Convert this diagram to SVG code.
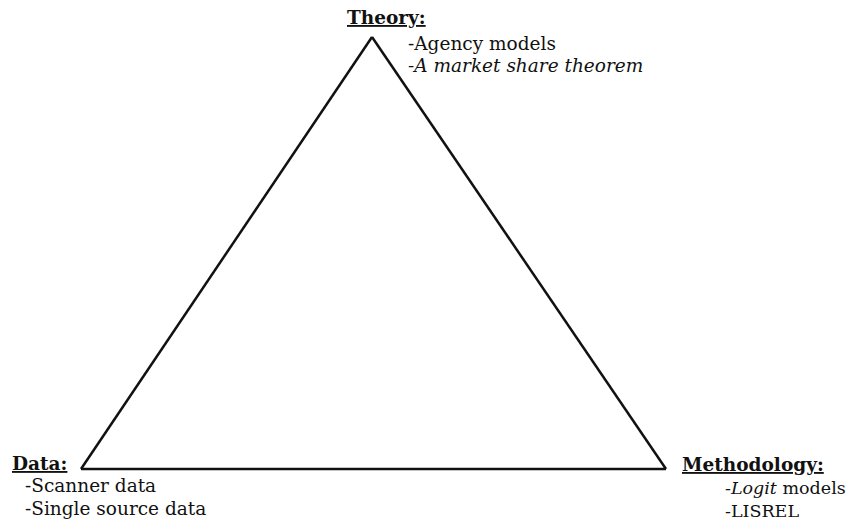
<svg xmlns="http://www.w3.org/2000/svg" width="848" height="525" viewBox="0 0 848 525">
<style>
text{font-family:"DejaVu Serif","Liberation Serif",serif;font-size:18.5px;fill:#111}
.h{font-weight:bold;text-decoration:underline}
.r{font-size:17.5px}
.e{stroke:#111;stroke-width:2.5;fill:none}
</style>
<rect width="848" height="525" fill="#fff"/>
<g id="connectors">
<line class="e" x1="372" y1="37" x2="81" y2="469"/>
<line class="e" x1="372" y1="37" x2="666" y2="469"/>
<line class="e" x1="81" y1="469" x2="666" y2="469"/>
</g>
<g id="theory">
<text class="h" x="347" y="24">Theory:</text>
<text x="408" y="50">-Agency models</text>
<text x="408" y="72" font-style="italic">-A market share theorem</text>
</g>
<g id="data">
<text class="h" x="12" y="470">Data:</text>
<text x="25" y="492">-Scanner data</text>
<text x="25" y="515">-Single source data</text>
</g>
<g id="methodology">
<text class="h" x="682" y="471" font-size="18px">Methodology:</text>
<text class="r" x="725" y="494"><tspan font-style="italic">-Logit</tspan> models</text>
<text class="r" x="725" y="517">-LISREL</text>
</g>
</svg>
